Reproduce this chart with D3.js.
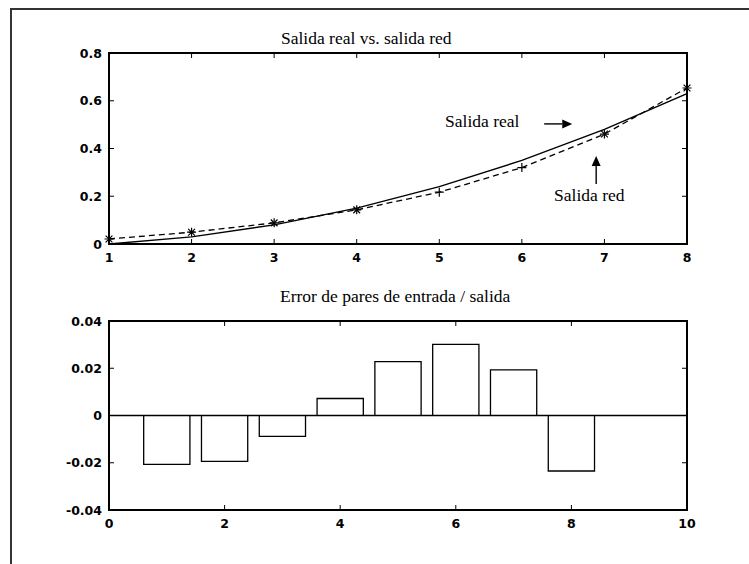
<!DOCTYPE html>
<html><head><meta charset="utf-8">
<script src="https://cdn.jsdelivr.net/npm/d3@7/dist/d3.min.js"></script>
<style>
body{margin:0;background:#fff;}
svg{display:block;}
.tick-label{font-family:"DejaVu Sans",sans-serif;font-weight:bold;font-size:12.5px;fill:#000;}
.serif{font-family:"Liberation Serif","Times New Roman",serif;font-size:17.5px;fill:#000;}
</style>
</head><body>
<script>
// ---- data ----
const xPoints = [1, 2, 3, 4, 5, 6, 7, 8];
const salidaReal = [0, 0.03, 0.08, 0.15, 0.24, 0.35, 0.48, 0.63];
const salidaRed = [0.021, 0.0495, 0.0885, 0.143, 0.217, 0.32, 0.4605, 0.6535];
const starPoints = [1, 2, 3, 4, 7, 8];
const xTicksTop = [1, 2, 3, 4, 5, 6, 7, 8];
const yTicksTop = [0, 0.2, 0.4, 0.6, 0.8];
const yTickLabelsTop = ["0", "0.2", "0.4", "0.6", "0.8"];

const pairs = [1, 2, 3, 4, 5, 6, 7, 8];
const errores = [-0.0207, -0.0194, -0.0088, 0.0072, 0.0228, 0.0301, 0.0193, -0.0235];
const xTicksBot = [0, 2, 4, 6, 8, 10];
const yTicksBot = [-0.04, -0.02, 0, 0.02, 0.04];
const yTickLabelsBot = ["-0.04", "-0.02", "0", "0.02", "0.04"];

const titleTop = "Salida real vs. salida red";
const titleBot = "Error de pares de entrada / salida";
const annotTexts = [{t:"Salida real", x:5.07, y:0.49}, {t:"Salida red", x:6.39, y:0.18}];
const annotArrows = [{x1:6.27, y1:0.503, x2:6.61, y2:0.503}, {x1:6.9, y1:0.251, x2:6.9, y2:0.369}];

// ---- drawing ----
const W = 749, H = 564;
const svg = d3.select("body").append("svg").attr("width", W).attr("height", H);

// figure frame
svg.append("path").attr("d", `M11,${H+5} L11,9 L${W+5},9`)
  .attr("fill","none").attr("stroke","#333").attr("stroke-width",2);

function drawAxes(x, y, xt, yt, ytl, xtl){
  const [x0,x1] = x.range(), [y0,y1] = y.range(); // y0 bottom, y1 top
  const g = svg.append("g");
  const tl = 5;
  xt.forEach((v,i)=>{
    const px = x(v);
    g.append("line").attr("x1",px).attr("x2",px).attr("y1",y0).attr("y2",y0-tl).attr("stroke","#000").attr("stroke-width",1);
    g.append("line").attr("x1",px).attr("x2",px).attr("y1",y1).attr("y2",y1+tl).attr("stroke","#000").attr("stroke-width",1);
    g.append("text").attr("class","tick-label").attr("x",px).attr("y",y0+18).attr("text-anchor","middle").text(xtl[i]);
  });
  yt.forEach((v,i)=>{
    const py = y(v);
    g.append("line").attr("x1",x0).attr("x2",x0+tl).attr("y1",py).attr("y2",py).attr("stroke","#000").attr("stroke-width",1);
    g.append("line").attr("x1",x1).attr("x2",x1-tl).attr("y1",py).attr("y2",py).attr("stroke","#000").attr("stroke-width",1);
    g.append("text").attr("class","tick-label").attr("x",x0-7).attr("y",py+4.5).attr("text-anchor","end").text(ytl[i]);
  });
  g.append("rect").attr("x",x0).attr("y",y1).attr("width",x1-x0).attr("height",y0-y1)
    .attr("fill","none").attr("stroke","#000").attr("stroke-width",2);
}

// top chart
const xT = d3.scaleLinear().domain([1,8]).range([109,687]);
const yT = d3.scaleLinear().domain([0,0.8]).range([244,53]);
const line = d3.line().x((d,i)=>xT(xPoints[i])).y(d=>yT(d));
svg.append("path").attr("d", line(salidaReal)).attr("fill","none").attr("stroke","#000").attr("stroke-width",1.4);
svg.append("path").attr("d", line(salidaRed)).attr("fill","none").attr("stroke","#000").attr("stroke-width",1.3).attr("stroke-dasharray","6,4");
const ms = 4.5;
xPoints.forEach((xv,i)=>{
  const px = xT(xv), py = yT(salidaRed[i]);
  svg.append("path").attr("d",`M${px-ms},${py}L${px+ms},${py}M${px},${py-ms}L${px},${py+ms}`).attr("stroke","#000").attr("stroke-width",1.2);
  if(starPoints.includes(xv)){
    const d = ms*0.75;
    svg.append("path").attr("d",`M${px-d},${py-d}L${px+d},${py+d}M${px-d},${py+d}L${px+d},${py-d}`).attr("stroke","#000").attr("stroke-width",1.2);
  }
});
drawAxes(xT, yT, xTicksTop, yTicksTop, yTickLabelsTop, xTicksTop.map(String));
svg.append("text").attr("class","serif").attr("x",281).attr("y",44).text(titleTop);
annotTexts.forEach(a=>{
  svg.append("text").attr("class","serif").attr("x",xT(a.x)).attr("y",yT(a.y)).text(a.t);
});
annotArrows.forEach(a=>{
  const X1=xT(a.x1), Y1=yT(a.y1), X2=xT(a.x2), Y2=yT(a.y2);
  const ang = Math.atan2(Y2-Y1, X2-X1);
  const hl = 10, hw = 4.5;
  const bx = X2 - hl*Math.cos(ang), by = Y2 - hl*Math.sin(ang);
  svg.append("line").attr("x1",X1).attr("y1",Y1).attr("x2",bx).attr("y2",by).attr("stroke","#000").attr("stroke-width",1.4);
  const nx = -Math.sin(ang), ny = Math.cos(ang);
  svg.append("path").attr("d",`M${X2},${Y2}L${bx+nx*hw},${by+ny*hw}L${bx-nx*hw},${by-ny*hw}Z`).attr("fill","#000");
});

// bottom chart
const xB = d3.scaleLinear().domain([0,10]).range([109,687]);
const yB = d3.scaleLinear().domain([-0.04,0.04]).range([510,321]);
const bw = 0.8;
// baseline
svg.append("line").attr("x1",xB(0)).attr("x2",xB(10)).attr("y1",yB(0)).attr("y2",yB(0)).attr("stroke","#000").attr("stroke-width",1.3);
pairs.forEach((p,i)=>{
  const l = xB(p-bw/2), r = xB(p+bw/2), yz = yB(0), yv = yB(errores[i]);
  svg.append("path").attr("d",`M${l},${yz}L${l},${yv}L${r},${yv}L${r},${yz}`).attr("fill","none").attr("stroke","#000").attr("stroke-width",1.3);
});
drawAxes(xB, yB, xTicksBot, yTicksBot, yTickLabelsBot, xTicksBot.map(String));
svg.append("text").attr("class","serif").attr("x",280).attr("y",302).text(titleBot);
</script>
</body></html>
